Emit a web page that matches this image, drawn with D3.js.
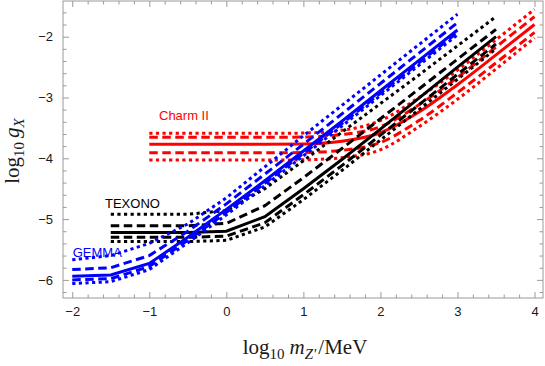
<!DOCTYPE html>
<html lang="en">
<head>
<meta charset="UTF-8">
<title>g_X limits</title>
<style>
  body { margin: 0; background: #fff; }
</style>
</head>
<body>
<div id="chart"></div>
<script src="https://cdnjs.cloudflare.com/ajax/libs/d3/7.8.5/d3.min.js"></script>
<script>
// log10 m_Z' sample points
const xGemma = [-2, -1.5, -1, -0.5, 0, 0.5, 1, 1.5, 2, 2.5, 3];
const xTexono = [-1.5, -1, -0.5, 0, 0.5, 1, 1.5, 2, 2.5, 3, 3.5];
const xCharm = [-1, -0.5, 0, 0.5, 1, 1.5, 2, 2.5, 3, 3.5, 4];

// GEMMA (blue)
const gemmaDotHi  = [-5.67, -5.60, -5.40, -5.08, -4.65, -4.14, -3.63, -3.13, -2.63, -2.13, -1.63];
const gemmaDashHi = [-5.83, -5.80, -5.60, -5.20, -4.75, -4.26, -3.77, -3.27, -2.77, -2.27, -1.77];
const gemmaSolid  = [-5.94, -5.92, -5.73, -5.30, -4.84, -4.37, -3.88, -3.39, -2.89, -2.39, -1.89];
const gemmaDashLo = [-6.00, -5.98, -5.78, -5.35, -4.89, -4.41, -3.92, -3.43, -2.93, -2.43, -1.93];
const gemmaDotLo  = [-6.06, -6.03, -5.83, -5.39, -4.93, -4.45, -3.96, -3.47, -2.97, -2.47, -1.97];

// TEXONO (black)
const texDotHi  = [-4.92, -4.92, -4.92, -4.86, -4.50, -4.04, -3.57, -3.10, -2.63, -2.15, -1.67];
const texDashHi = [-5.11, -5.11, -5.11, -5.07, -4.78, -4.32, -3.84, -3.35, -2.86, -2.37, -1.88];
const texSolid  = [-5.22, -5.22, -5.22, -5.20, -4.96, -4.50, -4.02, -3.52, -3.01, -2.50, -2.00];
const texDashLo = [-5.30, -5.30, -5.30, -5.28, -5.06, -4.60, -4.12, -3.62, -3.12, -2.62, -2.12];
const texDotLo  = [-5.37, -5.37, -5.37, -5.35, -5.13, -4.68, -4.20, -3.70, -3.20, -2.70, -2.20];

// Charm II (red)
const charmDotHi  = [-3.59, -3.59, -3.59, -3.59, -3.585, -3.54, -3.38, -3.00, -2.55, -2.05, -1.55];
const charmDashHi = [-3.655, -3.655, -3.655, -3.655, -3.65, -3.61, -3.48, -3.12, -2.67, -2.17, -1.67];
const charmSolid  = [-3.77, -3.77, -3.77, -3.77, -3.765, -3.72, -3.58, -3.24, -2.79, -2.30, -1.80];
const charmDashLo = [-3.91, -3.91, -3.91, -3.91, -3.905, -3.87, -3.74, -3.38, -2.92, -2.43, -1.93];
const charmDotLo  = [-4.03, -4.03, -4.03, -4.03, -4.025, -3.99, -3.86, -3.48, -3.03, -2.53, -2.02];

const xTicks = [-2, -1, 0, 1, 2, 3, 4];
const yTicks = [-6, -5, -4, -3, -2];

let vp = {width: 480, height: 297};
let margin = {top: 1, right: 2, bottom: 68, left: 63};

var svg = d3.select("#chart").append("svg")
    .attr("width", vp.width + margin.left + margin.right)
    .attr("height", vp.height + margin.top + margin.bottom)
    .append("g")
    .attr("transform", "translate(" + margin.left + "," + margin.top + ")");

var x = d3.scaleLinear().domain([-2.12, 4.11]).range([0, vp.width]);
var y = d3.scaleLinear().domain([-6.298, -1.413]).range([vp.height, 0]);

svg.append("clipPath").attr("id", "clip")
    .append("rect").attr("width", vp.width).attr("height", vp.height);

// curves: red first, then black, then blue on top
var dot = "3.2,3.4", dash = "8.5,4.5";
var series = [
    {xs: xCharm, ys: charmDotHi, c: "#ff0000", d: dot, smooth: true},
    {xs: xCharm, ys: charmDashHi, c: "#ff0000", d: dash, smooth: true},
    {xs: xCharm, ys: charmSolid, c: "#ff0000", d: null, smooth: true},
    {xs: xCharm, ys: charmDashLo, c: "#ff0000", d: dash, smooth: true},
    {xs: xCharm, ys: charmDotLo, c: "#ff0000", d: dot, smooth: true},
    {xs: xTexono, ys: texDotHi, c: "#000", d: dot},
    {xs: xTexono, ys: texDashHi, c: "#000", d: dash},
    {xs: xTexono, ys: texSolid, c: "#000", d: null},
    {xs: xTexono, ys: texDashLo, c: "#000", d: dash},
    {xs: xTexono, ys: texDotLo, c: "#000", d: dot},
    {xs: xGemma, ys: gemmaDotHi, c: "#0000ff", d: dot},
    {xs: xGemma, ys: gemmaDashHi, c: "#0000ff", d: dash},
    {xs: xGemma, ys: gemmaSolid, c: "#0000ff", d: null},
    {xs: xGemma, ys: gemmaDashLo, c: "#0000ff", d: dash},
    {xs: xGemma, ys: gemmaDotLo, c: "#0000ff", d: dot}
];

var plot = svg.append("g").attr("clip-path", "url(#clip)");
series.forEach(function(s) {
    var line = d3.line()
        .x(function(d, i) { return x(s.xs[i]); })
        .y(function(d) { return y(d); })
        .curve(s.smooth ? d3.curveMonotoneX : d3.curveLinear);
    plot.append("path")
        .attr("d", line(s.ys))
        .attr("fill", "none")
        .attr("stroke", s.c)
        .attr("stroke-width", 3)
        .attr("stroke-dasharray", s.d);
});

// labels
var sans = "'Liberation Sans', Arial, sans-serif";
[["Charm II", -0.874, -3.37, "#ff0000"],
 ["TEXONO", -1.575, -4.82, "#000"],
 ["GEMMA", -1.994, -5.62, "#0000ff"]].forEach(function(t) {
    svg.append("text")
        .attr("x", x(t[1]))
        .attr("y", y(t[2]))
        .attr("fill", t[3])
        .attr("font-family", sans)
        .attr("font-size", "13px")
        .text(t[0]);
});

// frame ticks
var fmt = function(d) { return d < 0 ? "\u2212" + Math.abs(d) : "" + d; };
var xMinor = d3.range(-10, 21).map(function(i) { return i / 5; }).filter(function(v) { return !Number.isInteger(v); });
var yMinor = d3.range(-31, -7).map(function(i) { return i / 5; }).filter(function(v) { return !Number.isInteger(v); });

function addAxis(axis, tr) {
    var g = svg.append("g").attr("transform", tr).call(axis);
    g.select(".domain").remove();
    g.selectAll("line").attr("stroke", "#9a9a9a");
    g.selectAll("text")
        .attr("fill", "#1a1a1a")
        .style("font-family", sans)
        .style("font-size", "13px");
    return g;
}

addAxis(d3.axisBottom(x).tickValues(xTicks).tickSize(-6).tickPadding(9).tickFormat(fmt), "translate(0," + vp.height + ")");
addAxis(d3.axisBottom(x).tickValues(xMinor).tickSize(-3.5).tickFormat(""), "translate(0," + vp.height + ")");
addAxis(d3.axisTop(x).tickValues(xTicks).tickSize(-6).tickFormat(""), "translate(0,0)");
addAxis(d3.axisTop(x).tickValues(xMinor).tickSize(-3.5).tickFormat(""), "translate(0,0)");
addAxis(d3.axisLeft(y).tickValues(yTicks).tickSize(-6).tickPadding(10).tickFormat(fmt), "translate(0,0)");
addAxis(d3.axisLeft(y).tickValues(yMinor).tickSize(-3.5).tickFormat(""), "translate(0,0)");
addAxis(d3.axisRight(y).tickValues(yTicks).tickSize(-6).tickFormat(""), "translate(" + vp.width + ",0)");
addAxis(d3.axisRight(y).tickValues(yMinor).tickSize(-3.5).tickFormat(""), "translate(" + vp.width + ",0)");

svg.append("rect")
    .attr("width", vp.width)
    .attr("height", vp.height)
    .attr("fill", "none")
    .attr("stroke", "#9a9a9a")
    .attr("stroke-width", 1);

// axis titles
var serif = "'Liberation Serif', 'Times New Roman', serif";
var xt = svg.append("text")
    .attr("x", vp.width / 2 + 2)
    .attr("y", vp.height + 56)
    .attr("text-anchor", "middle")
    .attr("font-family", serif)
    .attr("font-size", "21px")
    .attr("fill", "#1a1a1a");
xt.append("tspan").text("log");
xt.append("tspan").attr("dy", 5).attr("font-size", "15px").text("10");
xt.append("tspan").attr("dy", -5).attr("dx", 5).attr("font-style", "italic").text("m");
xt.append("tspan").attr("dy", 5).attr("font-size", "15px").attr("font-style", "italic").text("Z\u2032");
xt.append("tspan").attr("dy", -5).attr("dx", 2).text("/MeV");

var yt = svg.append("text")
    .attr("transform", "translate(" + (19 - margin.left) + "," + (151 - margin.top) + ") rotate(-90)")
    .attr("text-anchor", "middle")
    .attr("font-family", serif)
    .attr("font-size", "21px")
    .attr("fill", "#1a1a1a");
yt.append("tspan").text("log");
yt.append("tspan").attr("dy", 5).attr("font-size", "15px").text("10");
yt.append("tspan").attr("dy", -5).attr("dx", 4).attr("font-style", "italic").text("g");
yt.append("tspan").attr("dy", 5).attr("font-size", "15px").attr("font-style", "italic").text("X");
</script>
</body>
</html>
